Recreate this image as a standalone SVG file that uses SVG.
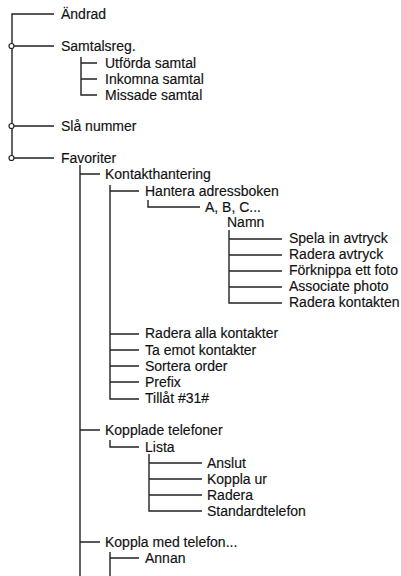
<svg xmlns="http://www.w3.org/2000/svg" width="401" height="576" viewBox="0 0 401 576">
<style>
text{font-family:"Liberation Sans",Arial,Helvetica,sans-serif;font-size:14px;fill:#111;stroke:#111;stroke-width:0.15}
.c{fill:none;stroke:#222;stroke-width:1.4}
.o{fill:#fff;stroke:#222;stroke-width:1.2}
</style>
<rect width="401" height="576" fill="#fff"/>
<g id="connectors">
<path class="c" d="M54,14H12V158M14,46H54M14,126H54M14,158H54"/>
<path class="c" d="M81,57V95H97M81,63H97M81,79H97"/>
<path class="c" d="M80,165V576M80,174H100M80,430H100M80,542H100"/>
<path class="c" d="M110,185V399H139M110,191H139M110,334H139M110,350H139M110,366H139M110,382H139"/>
<path class="c" d="M148,200V207H200"/>
<path class="c" d="M229,230V303H282M229,239H282M229,255H282M229,271H282M229,287H282"/>
<path class="c" d="M110,440V447H139"/>
<path class="c" d="M149,454V511H202M149,463H202M149,479H202M149,495H202"/>
<path class="c" d="M110,552V576M110,558H139"/>
<circle class="o" cx="11.5" cy="46" r="2.5"/>
<circle class="o" cx="11.5" cy="126" r="2.5"/>
<circle class="o" cx="11.5" cy="158" r="2.5"/>
</g>
<g id="n-andrad"><text x="61" y="19">Ändrad</text></g>
<g id="n-samtalsreg"><text x="61" y="51">Samtalsreg.</text></g>
<g id="n-utforda"><text x="105" y="68">Utförda samtal</text></g>
<g id="n-inkomna"><text x="105" y="84">Inkomna samtal</text></g>
<g id="n-missade"><text x="105" y="100">Missade samtal</text></g>
<g id="n-sla"><text x="61" y="131">Slå nummer</text></g>
<g id="n-favoriter"><text x="61" y="163">Favoriter</text></g>
<g id="n-kontakt"><text x="105" y="179">Kontakthantering</text></g>
<g id="n-hantera"><text x="145" y="196">Hantera adressboken</text></g>
<g id="n-abc"><text x="205" y="212">A, B, C...</text></g>
<g id="n-namn"><text x="227" y="227">Namn</text></g>
<g id="n-spela"><text x="289" y="243">Spela in avtryck</text></g>
<g id="n-raderaavt"><text x="289" y="259">Radera avtryck</text></g>
<g id="n-forknippa"><text x="289" y="275">Förknippa ett foto</text></g>
<g id="n-associate"><text x="289" y="291">Associate photo</text></g>
<g id="n-raderakont"><text x="289" y="307">Radera kontakten</text></g>
<g id="n-raderaalla"><text x="145" y="338">Radera alla kontakter</text></g>
<g id="n-taemot"><text x="145" y="355">Ta emot kontakter</text></g>
<g id="n-sortera"><text x="145" y="371">Sortera order</text></g>
<g id="n-prefix"><text x="145" y="387">Prefix</text></g>
<g id="n-tillat"><text x="145" y="403">Tillåt #31#</text></g>
<g id="n-kopplade"><text x="105" y="435">Kopplade telefoner</text></g>
<g id="n-lista"><text x="145" y="452">Lista</text></g>
<g id="n-anslut"><text x="207" y="468">Anslut</text></g>
<g id="n-kopplaur"><text x="207" y="484">Koppla ur</text></g>
<g id="n-radera"><text x="207" y="500">Radera</text></g>
<g id="n-standard"><text x="207" y="516">Standardtelefon</text></g>
<g id="n-kopplamed"><text x="105" y="547">Koppla med telefon...</text></g>
<g id="n-annan"><text x="145" y="563">Annan</text></g>
</svg>
